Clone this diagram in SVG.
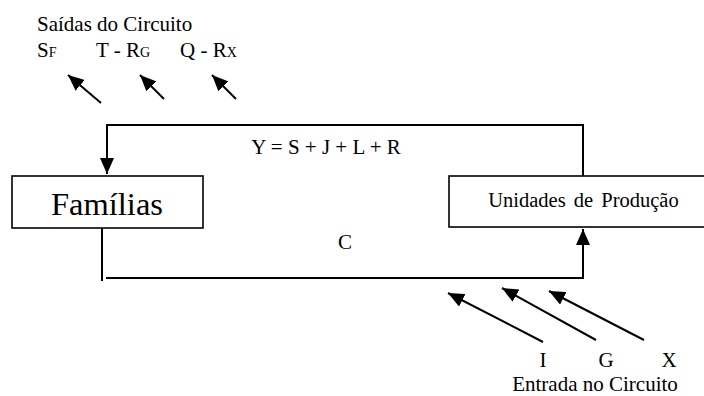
<svg xmlns="http://www.w3.org/2000/svg" width="704" height="396" viewBox="0 0 704 396">
<style>
text { font-family: 'Liberation Serif', 'DejaVu Serif', serif; fill: #000; }
.t { font-size: 21px; }
.sub { font-size: 14px; }
.box { fill: #fff; stroke: #000; stroke-width: 1.6; }
.ln { fill: none; stroke: #000; stroke-width: 2; }
</style>
<defs>
<marker id="ah2" viewBox="0 0 10 10" refX="10" refY="5" markerWidth="16" markerHeight="14" markerUnits="userSpaceOnUse" orient="auto" preserveAspectRatio="none">
<path d="M0,0 L10,5 L0,10 z" fill="#000"/>
</marker>
</defs>
<rect width="704" height="396" fill="#fff"/>
<g id="familias">
<rect class="box" x="12" y="176" width="191" height="52"/>
<text x="107" y="215" font-size="32.5" text-anchor="middle">Famílias</text>
</g>
<g id="unidades">
<rect class="box" x="449" y="176" width="270" height="51"/>
<text x="583.5" y="207" font-size="20.5" text-anchor="middle" word-spacing="3">Unidades de Produção</text>
</g>
<g id="connectors">
<path class="ln" d="M583,176 V125 H107 V174" marker-end="url(#ah2)"/>
<path class="ln" d="M102,228 V281"/>
<path class="ln" d="M106,278 H583 V229" marker-end="url(#ah2)"/>
<path class="ln" d="M101,103 L68,75" marker-end="url(#ah2)"/>
<path class="ln" d="M164,99 L140,75" marker-end="url(#ah2)"/>
<path class="ln" d="M236,99 L212,75" marker-end="url(#ah2)"/>
<path class="ln" d="M543,342 L448,293" marker-end="url(#ah2)"/>
<path class="ln" d="M596,340 L502,288" marker-end="url(#ah2)"/>
<path class="ln" d="M644,340 L549,291" marker-end="url(#ah2)"/>
</g>
<g id="labels">
<text class="t" x="37" y="31">Saídas do Circuito</text>
<text class="t" x="37" y="57">S<tspan class="sub">F</tspan></text>
<text class="t" x="96" y="57">T - R<tspan class="sub">G</tspan></text>
<text class="t" x="180" y="57">Q - R<tspan class="sub">X</tspan></text>
<text class="t" x="326" y="154" text-anchor="middle">Y = S + J + L + R</text>
<text class="t" x="345" y="249" text-anchor="middle">C</text>
<text class="t" x="543" y="367" text-anchor="middle">I</text>
<text class="t" x="606" y="367" text-anchor="middle">G</text>
<text class="t" x="669" y="367" text-anchor="middle">X</text>
<text class="t" x="595" y="391" text-anchor="middle">Entrada no Circuito</text>
</g>
</svg>
